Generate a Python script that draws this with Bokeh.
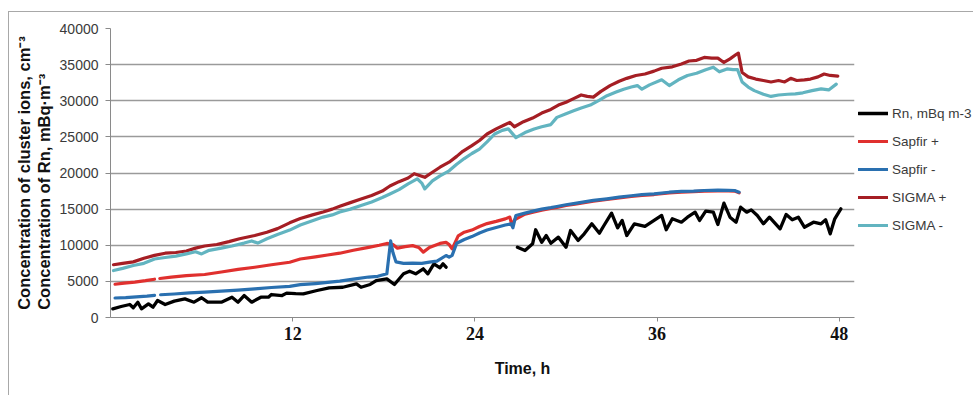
import numpy as np
from bokeh.plotting import figure
from bokeh.models import Legend, LegendItem, FixedTicker, Range1d, NumeralTickFormatter, Title
from bokeh.embed import file_html
from bokeh.resources import INLINE

NaN = float("nan")

# ---- data (time in hours, values) ----
rn_t = [0.15, 0.7, 1.27, 1.5, 1.8, 2.04, 2.5, 2.8, 3.1, 3.6, 4.2, 4.9, 5.5, 6.0, 6.4, 7.3, 8.0, 8.4, 8.8, 9.3,
        9.9, 10.4, 10.6, 11.3, 11.6, 12.2, 12.7, 13.6, 14.4, 15.3, 16.2, 16.5, 17.1, 17.5, 18.2, 18.7, 19.3,
        19.7, 20.1, 20.6, 20.9, 21.3, 21.7, 21.9, 22.1, 24.5,
        26.8, 27.3, 27.8, 28.0, 28.4, 28.7, 29.0, 29.5, 30.0, 30.3, 30.8, 31.2, 31.7, 32.2, 32.5, 33.0, 33.4,
        33.7, 34.0, 34.5, 35.2, 35.8, 36.3, 36.6, 37.0, 37.6, 38.0, 38.5, 38.8, 39.2, 39.7, 40.0, 40.4, 40.8,
        41.2, 41.5, 41.9, 42.2, 42.6, 43.0, 43.4, 44.1, 44.5, 44.9, 45.3, 45.7, 46.3, 46.8, 47.1, 47.4, 47.7, 48.1]
rn_v = [1200, 1520, 1800, 1340, 2120, 1200, 1890, 1430, 2350, 1800, 2260, 2580, 2120, 2730, 2120, 2120, 2810, 2120, 3040, 2120,
        2810, 2810, 3180, 3040, 3370, 3300, 3280, 3740, 4110, 4190, 4660, 4190, 4570, 5120, 5350, 4570, 6050,
        6410, 6050, 6740, 6050, 7430, 6880, 7430, 6960, NaN,
        9730, 9270, 10200, 12140, 10420, 11350, 10280, 11120, 9730, 12040, 10660, 11580, 12970, 11670, 12730, 14440, 12420,
        13430, 11350, 12970, 12600, 13430, 14120, 12140, 13660, 13190, 13890, 14580, 13430, 14720, 14580, 12870, 15830, 13890,
        13190, 15270, 14580, 14900, 14120, 12970, 13890, 12280, 14260, 13520, 13890, 12500, 13190, 12970, 13520, 11580, 13660, 15040]

sapfir_plus_t = [0.3, 0.9, 1.6, 2.3, 2.9, 3.05, 3.25, 4.0, 5.0, 6.2, 7.3, 8.4, 9.5, 10.6, 11.8, 12.5, 13.5, 14.3, 15.1,
                 16.0, 17.0, 17.7, 18.2, 18.6, 18.9, 19.4, 19.9, 20.3, 20.6, 21.0, 21.7, 22.1, 22.3, 22.5, 22.9,
                 23.3, 23.8, 24.3, 24.8, 25.4, 26.0, 26.3, 26.45, 26.6, 27.3, 27.9, 28.4, 29.0, 29.4, 30.0, 30.6,
                 31.2, 31.8, 32.7, 33.5, 34.3, 35.0, 35.8, 36.8, 37.6, 38.4, 39.1, 40.0, 40.7, 41.1, 41.4]
sapfir_plus_v = [4600, 4750, 4900, 5100, 5300, NaN, 5400, 5600, 5800, 5950, 6300, 6650, 6950, 7300, 7650, 8100, 8400, 8650, 8900,
                 9300, 9700, 10000, 10250, 10100, 9600, 9800, 9950, 9700, 9050, 9700, 10250, 10400, 10100, 9500, 11300,
                 11800, 12100, 12600, 13000, 13300, 13650, 13900, 12700, 13500, 14300, 14600, 14850, 15080, 15250, 15500, 15700,
                 15900, 16100, 16330, 16550, 16750, 16900, 17020, 17250, 17350, 17420, 17500, 17530, 17520, 17500, 17250]

sapfir_minus_t = [0.3, 1.0, 1.7, 2.4, 2.9, 3.1, 3.3, 4.2, 5.2, 6.2, 7.3, 8.4, 9.5, 10.6, 11.8, 12.5, 13.5, 14.3, 15.1,
                  16.0, 17.0, 17.6, 18.2, 18.45, 18.6, 18.8, 19.3, 19.9, 20.5, 21.0, 21.5, 22.1, 22.3, 22.5, 22.8,
                  23.3, 23.8, 24.3, 24.8, 25.4, 26.0, 26.4, 26.5, 26.7, 27.3, 27.9, 28.4, 29.0, 29.4, 30.0, 30.6,
                  31.2, 31.8, 32.7, 33.5, 34.3, 35.0, 35.8, 36.8, 37.6, 38.4, 39.1, 40.0, 40.7, 41.1, 41.4]
sapfir_minus_v = [2700, 2750, 2850, 2950, 3050, NaN, 3150, 3250, 3400, 3500, 3650, 3800, 3970, 4150, 4300, 4550, 4700, 4850, 5030,
                  5300, 5600, 5700, 6050, 10600, 9000, 7700, 7500, 7520, 7500, 7660, 7800, 8580, 8350, 8600, 10280,
                  10800, 11200, 11700, 12100, 12450, 12800, 12970, 12420, 14120, 14450, 14750, 15000, 15200, 15360, 15600, 15800,
                  16000, 16200, 16430, 16650, 16850, 17000, 17120, 17340, 17450, 17500, 17580, 17620, 17600, 17580, 17340]

sigma_plus_t = [0.2, 0.8, 1.5, 2.2, 2.9, 3.6, 4.3, 5.0, 5.6, 6.2, 7.0, 7.8, 8.5, 9.5, 10.3, 11.0, 11.8, 12.5, 13.3, 14.0,
                14.6, 15.1, 15.8, 16.5, 17.2, 17.9, 18.4, 19.0, 19.6, 20.0, 20.3, 20.7, 21.2, 21.7, 22.3, 22.8, 23.2,
                23.8, 24.3, 24.8, 25.4, 25.9, 26.3, 26.6, 27.2, 27.8, 28.4, 29.0, 29.5, 30.0, 30.5, 31.0, 31.4, 31.8,
                32.3, 32.9, 33.5, 34.0, 34.6, 35.2, 35.8, 36.3, 37.0, 37.6, 38.1, 38.6, 39.1, 39.6, 40.0, 40.4, 40.8,
                41.2, 41.35, 41.6, 42.0, 42.5, 43.0, 43.5, 44.0, 44.4, 44.8, 45.2, 45.7, 46.1, 46.6, 47.0, 47.4, 47.9]
sigma_plus_v = [7300, 7500, 7700, 8200, 8600, 8900, 9000, 9200, 9600, 9900, 10100, 10500, 10900, 11350, 11800, 12300, 13100, 13700, 14200, 14600,
                15000, 15400, 15900, 16400, 16900, 17500, 18200, 18800, 19300, 19900, 19700, 19400, 20100, 20800, 21500, 22300, 23000,
                23800, 24500, 25400, 26100, 26600, 27000, 26400, 27100, 27600, 28300, 28800, 29400, 29800, 30300, 30800, 30600, 30500,
                31300, 32100, 32700, 33100, 33500, 33700, 34100, 34500, 34700, 35100, 35500, 35600, 36000, 35900, 35900, 35300, 35800,
                36400, 36600, 33900, 33300, 33000, 32800, 32600, 32800, 32600, 33100, 32800, 32900, 33000, 33300, 33700, 33500, 33400]

sigma_minus_t = [0.2, 0.8, 1.5, 2.2, 2.9, 3.6, 4.3, 5.0, 5.6, 6.0, 6.5, 7.3, 8.0, 8.8, 9.3, 9.7, 10.3, 11.0, 11.8, 12.5,
                 13.3, 14.0, 14.6, 15.1, 15.8, 16.5, 17.2, 17.9, 18.4, 19.0, 19.6, 20.2, 20.5, 20.7, 21.2, 21.7, 22.3,
                 22.8, 23.3, 23.8, 24.3, 24.8, 25.3, 25.8, 26.2, 26.7, 27.3, 27.9, 28.4, 29.0, 29.4, 30.0, 30.5, 31.0,
                 31.6, 32.2, 32.7, 33.3, 33.8, 34.3, 34.7, 35.0, 35.5, 36.3, 36.8, 37.4, 38.0, 38.6, 39.2, 39.7, 40.1,
                 40.6, 41.0, 41.3, 41.6, 42.0, 42.4, 43.0, 43.5, 44.0, 44.6, 45.1, 45.6, 46.2, 46.8, 47.3, 47.8]
sigma_minus_v = [6500, 6800, 7200, 7500, 8100, 8300, 8500, 8800, 9100, 8800, 9300, 9600, 9900, 10300, 10600, 10300, 10900, 11500, 12100, 12800,
                 13400, 13900, 14200, 14600, 15000, 15500, 16000, 16600, 17100, 17700, 18500, 19200, 18600, 17800, 18900, 19600, 20300,
                 21200, 22000, 22700, 23300, 24300, 25400, 25900, 26100, 24900, 25600, 26100, 26400, 26700, 27700, 28200, 28600, 29000,
                 29400, 30100, 30700, 31200, 31600, 31900, 32100, 31600, 32200, 32900, 32100, 32900, 33500, 33800, 34300, 34650, 34000,
                 34400, 34300, 34300, 32600, 31900, 31400, 30900, 30600, 30800, 30900, 30960, 31100, 31400, 31650, 31500, 32300]

y_ticks = [0, 5000, 10000, 15000, 20000, 25000, 30000, 35000, 40000]
x_ticks = [12, 24, 36, 48]

series = [
    ("Rn, mBq m-3", rn_t, rn_v, "#000000", 3.3),
    ("Sapfir +", sapfir_plus_t, sapfir_plus_v, "#E0302E", 3.2),
    ("Sapfir -", sapfir_minus_t, sapfir_minus_v, "#2A70B0", 3.2),
    ("SIGMA +", sigma_plus_t, sigma_plus_v, "#A51E24", 3.2),
    ("SIGMA -", sigma_minus_t, sigma_minus_v, "#62B4C0", 3.2),
]

p = figure(frame_width=744, frame_height=289, x_range=Range1d(0, 49), y_range=Range1d(0, 40000),
           output_backend="svg", toolbar_location=None,
           min_border_left=101, min_border_right=119, min_border_top=16, min_border_bottom=79)
p.margin = (12, 0, 0, 9)
p.styles = {"box-shadow": "-1px -1px 0 0 #a8a8a8"}
p.background_fill_color = "white"
p.border_fill_color = "white"
p.outline_line_color = None

p.xgrid.visible = False
p.ygrid.grid_line_color = "#9a9a9a"
p.ygrid.grid_line_width = 1.3
p.ygrid.ticker = FixedTicker(ticks=y_ticks)

p.yaxis.ticker = FixedTicker(ticks=y_ticks)
p.yaxis.formatter = NumeralTickFormatter(format="0")
p.yaxis.axis_line_color = "#8a8a8a"
p.yaxis.major_tick_line_color = "#8a8a8a"
p.yaxis.major_tick_out = 5
p.yaxis.major_tick_in = 0
p.yaxis.minor_tick_line_color = None
p.yaxis.major_label_text_font = "Liberation Sans"
p.yaxis.major_label_text_font_size = "14px"
p.yaxis.major_label_text_color = "#3a3a3a"
p.yaxis.major_label_standoff = 7

p.xaxis.ticker = FixedTicker(ticks=x_ticks)
p.xaxis.axis_line_color = "#8a8a8a"
p.xaxis.major_tick_line_color = "#8a8a8a"
p.xaxis.major_tick_out = 4
p.xaxis.major_tick_in = 0
p.xaxis.minor_tick_line_color = None
p.xaxis.major_label_text_font = "Liberation Serif"
p.xaxis.major_label_text_font_style = "bold"
p.xaxis.major_label_text_font_size = "18px"
p.xaxis.major_label_text_color = "#111111"
p.xaxis.major_label_standoff = 5

items = []
for name, t, v, color, w in series:
    r = p.line(np.array(t, dtype=float), np.array(v, dtype=float), line_color=color, line_width=w,
               line_join="round", line_cap="round")
    items.append(LegendItem(label=name, renderers=[r]))

legend = Legend(items=items, location=(4, 78), orientation="vertical",
                glyph_width=30, glyph_height=28, label_height=28, spacing=0,
                padding=0, margin=0, label_standoff=4,
                background_fill_alpha=0, border_line_alpha=0,
                label_text_font="Liberation Sans", label_text_font_size="13.5px",
                label_text_color="#3a3a3a")
p.add_layout(legend, "right")

# axis titles
title_font = dict(text_font="Liberation Sans", text_font_style="bold", text_color="#111111")
p.add_layout(Title(text="Concentration of cluster ions, cm\u207b\u00b3\nConcentration of Rn, mBq\u00b7m\u207b\u00b3",
                   align="center", standoff=7, text_line_height=1.1,
                   text_font_size="16.5px", **title_font), "left")
p.xaxis.axis_label = "\u00a0" * 18 + "Time, h"
p.xaxis.axis_label_standoff = 17
p.xaxis.axis_label_text_font = "Liberation Sans"
p.xaxis.axis_label_text_font_style = "bold"
p.xaxis.axis_label_text_font_size = "16px"
p.xaxis.axis_label_text_color = "#111111"

open("out.html", "w").write(file_html(p, INLINE))
